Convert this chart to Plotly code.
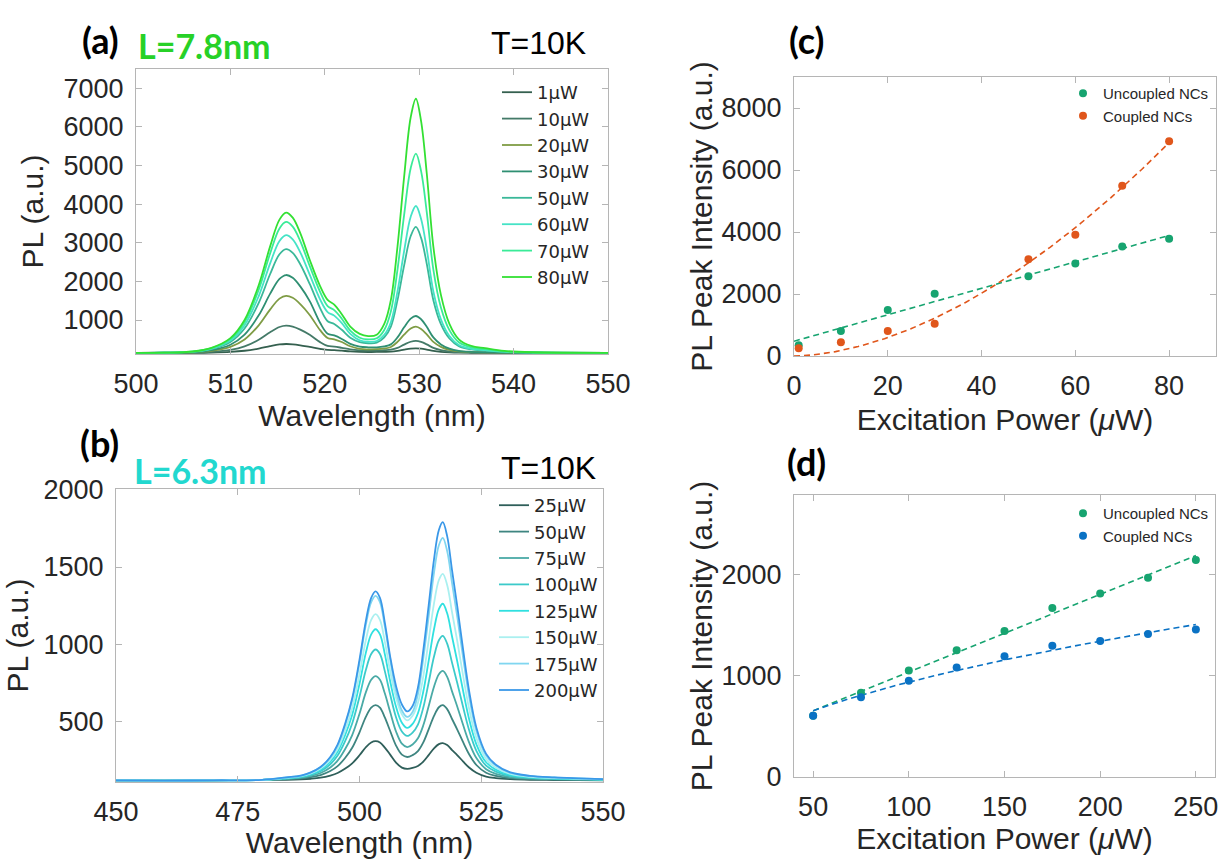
import numpy as np
import plotly.graph_objects as go

W, H = 1224, 859

# ---------------- (a) L = 7.8 nm, T = 10 K ----------------
wl_a = [500, 503, 506, 508, 510, 511.5, 513, 514.2, 515.2, 515.9, 516.6, 517.4, 518.4, 519.5,
        520.3, 521, 521.8, 522.7, 523.7, 524.6, 525.5, 526.3, 527, 527.7, 528.4, 529.1, 529.65,
        530.2, 530.8, 531.5, 532.3, 533.2, 534.2, 535.5, 537, 539, 542, 550]
pl_a_1uW = [150, 150, 152, 158, 174, 204, 260, 323, 367, 379, 371, 345, 302, 254, 225, 219, 205, 186, 175,
            172, 173, 176, 180, 200, 232, 260, 268, 258, 234, 200, 177, 164, 156, 153, 152, 151, 150, 150]
pl_a_10uW = [150, 151, 157, 175, 224, 315, 490, 684, 819, 854, 829, 751, 618, 427, 328, 313, 280, 238, 214,
             207, 211, 218, 232, 279, 364, 437, 459, 432, 369, 279, 221, 185, 166, 158, 156, 152, 151, 150]
pl_a_20uW = [150, 152, 164, 203, 305, 496, 862, 1269, 1554, 1627, 1575, 1412, 1131, 738, 534, 500, 430, 320,
             253, 241, 244, 263, 301, 433, 619, 778, 828, 768, 629, 433, 305, 227, 186, 169, 162, 155, 152, 150]
pl_a_30uW = [150, 153, 169, 222, 361, 622, 1121, 1676, 2065, 2165, 2093, 1871, 1488, 929, 643, 600, 510, 381,
             312, 294, 291, 315, 369, 549, 810, 1035, 1104, 1020, 824, 549, 368, 259, 201, 176, 167, 157, 152, 150]
pl_a_50uW = [150, 154, 176, 246, 431, 779, 1445, 2185, 2703, 2836, 2740, 2444, 1933, 1309, 968, 896, 747, 544,
             429, 398, 413, 548, 830, 1514, 2407, 3176, 3414, 3126, 2456, 1514, 894, 522, 324, 239, 210, 175, 157, 150]
pl_a_60uW = [150, 154, 179, 259, 469, 864, 1620, 2460, 3048, 3199, 3090, 2754, 2174, 1534, 1205, 1113, 920, 640,
             473, 437, 456, 615, 942, 1740, 2780, 3676, 3953, 3618, 2838, 1740, 1017, 584, 352, 254, 219, 179, 159, 150]
pl_a_70uW = [150, 155, 183, 271, 505, 944, 1785, 2719, 3372, 3540, 3419, 3045, 2401, 1730, 1361, 1255, 1034, 728,
             542, 498, 526, 743, 1224, 2306, 3717, 4932, 5309, 4854, 3796, 2306, 1326, 738, 424, 291, 244, 189, 162, 150]
pl_a_80uW = [150, 155, 185, 280, 530, 1000, 1900, 2900, 3600, 3780, 3650, 3250, 2560, 1880, 1520, 1400, 1150, 830,
             640, 585, 620, 900, 1520, 2900, 4700, 6250, 6730, 6150, 4800, 2900, 1650, 900, 500, 330, 270, 200, 165, 150]
labels_a = ["1µW", "10µW", "20µW", "30µW", "50µW", "60µW", "70µW", "80µW"]
spectra_a = [pl_a_1uW, pl_a_10uW, pl_a_20uW, pl_a_30uW, pl_a_50uW, pl_a_60uW, pl_a_70uW, pl_a_80uW]
colors_a = ["#35604f", "#447a68", "#7f9c45", "#2f8f72", "#3ab899", "#45e3c6", "#3aeb98", "#33e033"]

# ---------------- (b) L = 6.3 nm, T = 10 K ----------------
wl_b = [450, 460, 470, 480, 485, 488, 490, 492, 494, 495.5, 497, 498.5, 500, 501.3, 502.4, 503.3, 504.2,
        505.2, 506.3, 507.5, 508.7, 509.8, 510.9, 512, 513.1, 514.2, 515.3, 516.3, 517.1, 518, 519, 520.1,
        521.3, 522.5, 524, 526, 528, 531, 535, 540, 545, 550]
pl_b_25uW = [118, 117, 119, 121, 122, 125, 129, 136, 150, 166, 193, 229, 281, 333, 364, 372, 364, 331, 285, 233, 201,
             193, 199, 212, 240, 282, 326, 353, 360, 347, 315, 281, 240, 202, 168, 143, 133, 126, 122, 121, 120, 119]
pl_b_50uW = [118, 117, 119, 122, 126, 131, 139, 153, 179, 211, 262, 330, 430, 530, 590, 606, 590, 526, 438, 344, 285,
             270, 282, 308, 364, 449, 536, 592, 606, 580, 516, 446, 364, 288, 218, 168, 148, 133, 127, 124, 122, 121]
pl_b_75uW = [118, 117, 119, 122, 129, 136, 147, 166, 202, 246, 318, 412, 550, 688, 770, 794, 770, 682, 561, 435, 356,
             334, 351, 391, 475, 598, 725, 806, 827, 789, 695, 594, 475, 365, 263, 191, 161, 140, 131, 126, 124, 122]
pl_b_100uW = [118, 117, 119, 122, 132, 140, 154, 178, 223, 279, 369, 487, 660, 833, 937, 966, 937, 826, 674, 527, 435,
              406, 428, 480, 590, 752, 920, 1026, 1054, 1004, 881, 746, 590, 444, 310, 214, 175, 147, 135, 129, 126, 123]
pl_b_125uW = [118, 117, 119, 122, 134, 144, 160, 188, 240, 304, 408, 544, 744, 944, 1064, 1097, 1064, 936, 760, 595, 492,
              458, 484, 553, 694, 892, 1097, 1227, 1262, 1200, 1050, 885, 694, 516, 352, 236, 188, 154, 139, 132, 128, 124]
pl_b_150uW = [118, 117, 119, 122, 136, 146, 164, 195, 252, 322, 437, 586, 806, 1026, 1158, 1195, 1158, 1017, 824, 654, 546,
              507, 537, 621, 792, 1024, 1264, 1416, 1456, 1384, 1208, 1016, 792, 584, 392, 256, 200, 160, 142, 134, 129, 125]
pl_b_175uW = [118, 117, 119, 122, 138, 149, 169, 203, 266, 344, 471, 637, 881, 1125, 1272, 1313, 1272, 1115, 901, 698, 571,
              529, 561, 678, 909, 1181, 1463, 1641, 1688, 1603, 1397, 1172, 909, 664, 439, 280, 214, 167, 146, 137, 131, 126]
pl_b_200uW = [118, 117, 119, 122, 138, 150, 170, 205, 270, 350, 480, 650, 900, 1150, 1300, 1342, 1300, 1140, 920, 730, 610,
              565, 600, 720, 960, 1250, 1550, 1740, 1790, 1700, 1480, 1240, 960, 700, 460, 290, 220, 170, 148, 138, 132, 127]
labels_b = ["25µW", "50µW", "75µW", "100µW", "125µW", "150µW", "175µW", "200µW"]
spectra_b = [pl_b_25uW, pl_b_50uW, pl_b_75uW, pl_b_100uW, pl_b_125uW, pl_b_150uW, pl_b_175uW, pl_b_200uW]
colors_b = ["#2f5f5a", "#3e8580", "#4aaaa6", "#3ccaca", "#30e0e0", "#aaf0f0", "#80d6f0", "#3a98e8"]

# ---------------- (c) peak intensity vs power, L = 7.8 nm ----------------
power_c = [1, 10, 20, 30, 50, 60, 70, 80]
uncoupled_c = [350, 810, 1480, 2010, 2570, 2980, 3530, 3780]
coupled_c = [250, 440, 810, 1040, 3120, 3910, 5490, 6930]

# ---------------- (d) peak intensity vs power, L = 6.3 nm ----------------
power_d = [50, 75, 100, 125, 150, 175, 200, 225, 250]
uncoupled_d = [605, 830, 1050, 1250, 1440, 1665, 1810, 1965, 2140]
coupled_d = [605, 785, 950, 1080, 1190, 1295, 1340, 1410, 1455]

GREEN = "#17a470"
ORANGE = "#e0561b"
BLUE = "#0a72c4"

SANS = "Liberation Sans, Arial, sans-serif"
TICK_FONT = dict(family=SANS, size=27, color="#262626")
TITLE_FONT = dict(family=SANS, size=30, color="#262626")
SPEC_LEGEND_FONT = dict(family="DejaVu Sans, sans-serif", size=18, color="#262626")
PT_LEGEND_FONT = dict(family=SANS, size=15, color="#262626")


def px_x(p):
    return p / W


def px_y(p):
    return 1 - p / H


def linear_fit(x, y, x0, x1):
    coef = np.polyfit(x, y, 1)
    xs = np.linspace(x0, x1, 200)
    return xs, np.polyval(coef, xs)


def power_fit(x, y, x0, x1):
    # least-squares fit of y = a * x**b (exponent scanned, amplitude solved in closed form)
    x = np.asarray(x, float)
    y = np.asarray(y, float)
    best = None
    for b in np.linspace(0.1, 3.0, 2901):
        xb = x ** b
        a = (xb @ y) / (xb @ xb)
        res = np.sum((y - a * xb) ** 2)
        if best is None or res < best[0]:
            best = (res, a, b)
    xs = np.linspace(x0, x1, 200)
    return xs, best[1] * xs ** best[2]


fig = go.Figure()

# spectra (a)
for name, ys, col in zip(labels_a, spectra_a, colors_a):
    fig.add_trace(go.Scatter(x=wl_a, y=ys, mode="lines", name=name, line=dict(color=col, width=1.8, shape="spline"),
                             xaxis="x", yaxis="y", legend="legend"))

# spectra (b)
for name, ys, col in zip(labels_b, spectra_b, colors_b):
    fig.add_trace(go.Scatter(x=wl_b, y=ys, mode="lines", name=name, line=dict(color=col, width=1.8, shape="spline"),
                             xaxis="x2", yaxis="y2", legend="legend2"))

DASH = "6px,4px"

# (c) fits and points
for xs_ys, col in [(linear_fit(power_c, uncoupled_c, 0, 80), GREEN), (power_fit(power_c, coupled_c, 0, 80), ORANGE)]:
    fig.add_trace(go.Scatter(x=xs_ys[0], y=xs_ys[1], mode="lines", line=dict(color=col, width=1.6, dash=DASH),
                             showlegend=False, xaxis="x3", yaxis="y3", hoverinfo="skip"))
for ys, col, name in [(uncoupled_c, GREEN, "Uncoupled NCs"), (coupled_c, ORANGE, "Coupled NCs")]:
    fig.add_trace(go.Scatter(x=power_c, y=ys, mode="markers", name=name, marker=dict(color=col, size=8),
                             xaxis="x3", yaxis="y3", legend="legend3"))

# (d) fits and points
for xs_ys, col in [(linear_fit(power_d, uncoupled_d, 50, 250), GREEN), (power_fit(power_d, coupled_d, 50, 250), BLUE)]:
    fig.add_trace(go.Scatter(x=xs_ys[0], y=xs_ys[1], mode="lines", line=dict(color=col, width=1.6, dash=DASH),
                             showlegend=False, xaxis="x4", yaxis="y4", hoverinfo="skip"))
for ys, col, name in [(uncoupled_d, GREEN, "Uncoupled NCs"), (coupled_d, BLUE, "Coupled NCs")]:
    fig.add_trace(go.Scatter(x=power_d, y=ys, mode="markers", name=name, marker=dict(color=col, size=8),
                             xaxis="x4", yaxis="y4", legend="legend4"))


def axis(domain, rng, tickvals, title, standoff, anchor, labelstandoff=6):
    return dict(domain=domain, range=rng, tickvals=tickvals, anchor=anchor,
                title=dict(text=title, font=TITLE_FONT, standoff=standoff),
                showline=True, linecolor="#b5b5b5", linewidth=1, mirror="ticks",
                ticks="inside", ticklen=6, tickcolor="#b5b5b5", tickwidth=1,
                showgrid=False, zeroline=False, tickfont=TICK_FONT, automargin=False,
                ticklabelstandoff=labelstandoff)


# panel boxes in pixels: left, right, top, bottom
box_a = (136, 608, 69, 354)
box_b = (116, 603, 489, 782)
box_c = (794, 1216, 77, 356)
box_d = (794, 1215, 495, 777)


def dom(box):
    l, r, t, b = box
    return [px_x(l), px_x(r)], [px_y(b), px_y(t)]


xa, ya = dom(box_a)
xb, yb = dom(box_b)
xc, yc = dom(box_c)
xd, yd = dom(box_d)

mu_w = "Excitation Power (<i>μ</i>W)"


def legend_box(x_right, y_top, font):
    return dict(x=px_x(x_right), y=px_y(y_top), xanchor="right", yanchor="top", bgcolor="rgba(0,0,0,0)",
                font=font, itemwidth=30, tracegroupgap=0)


fig.update_layout(
    width=W, height=H, autosize=False,
    margin=dict(l=0, r=0, t=0, b=0),
    paper_bgcolor="white", plot_bgcolor="white",
    showlegend=True,
    xaxis=axis(xa, [500, 550], [500, 510, 520, 530, 540, 550], "Wavelength (nm)", 1, "y"),
    yaxis=axis(ya, [120, 7500], [1000, 2000, 3000, 4000, 5000, 6000, 7000], "PL (a.u.)", 11, "x"),
    xaxis2=axis(xb, [450, 550], [450, 475, 500, 525, 550], "Wavelength (nm)", 8, "y2"),
    yaxis2=axis(yb, [108, 2005], [500, 1000, 1500, 2000], "PL (a.u.)", 6, "x2"),
    xaxis3=axis(xc, [0, 90], [0, 20, 40, 60, 80], mu_w, 8, "y3"),
    yaxis3=axis(yc, [0, 9000], [0, 2000, 4000, 6000, 8000], "PL Peak Intensity (a.u.)", 0, "x3"),
    xaxis4=axis(xd, [40, 260], [50, 100, 150, 200, 250], mu_w, 3, "y4"),
    yaxis4=axis(yd, [0, 2780], [0, 1000, 2000], "PL Peak Intensity (a.u.)", 0, "x4"),
    legend=legend_box(595, 74, SPEC_LEGEND_FONT),
    legend2=legend_box(603, 487, SPEC_LEGEND_FONT),
    legend3=legend_box(1214, 77, PT_LEGEND_FONT),
    legend4=legend_box(1214, 497, PT_LEGEND_FONT),
)

LABEL_FONT = dict(family="Lato, Open Sans, sans-serif", size=36, color="black")
T_FONT = dict(family=SANS, size=32, color="black")
ann = [
    dict(text="<b>(a)</b>", x=px_x(100), y=px_y(40), font=LABEL_FONT),
    dict(text="<b>L=7.8nm</b>", x=px_x(204), y=px_y(46),
         font=dict(family="Lato, Open Sans, sans-serif", size=34, color="#27d127")),
    dict(text="T=10K", x=px_x(538), y=px_y(43), font=T_FONT),
    dict(text="<b>(b)</b>", x=px_x(99), y=px_y(443), font=LABEL_FONT),
    dict(text="<b>L=6.3nm</b>", x=px_x(200), y=px_y(470),
         font=dict(family="Lato, Open Sans, sans-serif", size=34, color="#22d8cf")),
    dict(text="T=10K", x=px_x(548), y=px_y(468), font=T_FONT),
    dict(text="<b>(c)</b>", x=px_x(806), y=px_y(40), font=LABEL_FONT),
    dict(text="<b>(d)</b>", x=px_x(806), y=px_y(462), font=LABEL_FONT),
]
for a in ann:
    a.update(xref="paper", yref="paper", showarrow=False, xanchor="center", yanchor="middle")
fig.update_layout(annotations=ann)

fig.write_html("out.html")
